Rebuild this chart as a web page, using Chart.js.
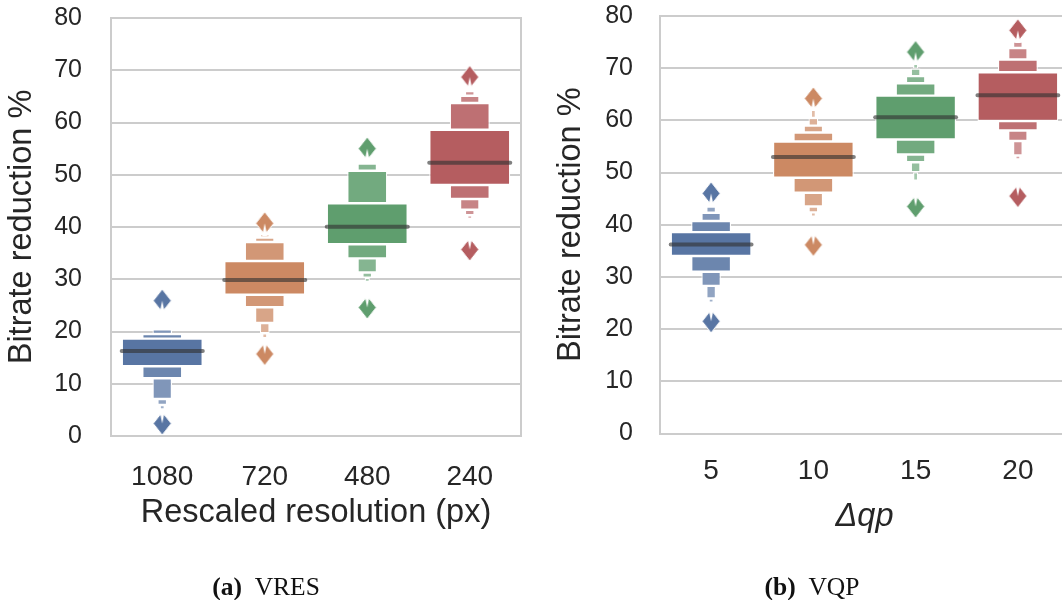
<!DOCTYPE html>
<html>
<head>
<meta charset="utf-8">
<script src="https://cdn.jsdelivr.net/npm/chart.js@4.4.1/dist/chart.umd.min.js"></script>
<style>
html,body{margin:0;padding:0;background:#fff;overflow:hidden;width:1062px;height:600px;position:relative;}
#wrapA{position:absolute;left:0;top:0;width:540px;height:600px;}
#wrapB{position:absolute;left:540px;top:0;width:540px;height:600px;}
.cap{position:absolute;top:572px;font-family:"Liberation Serif","DejaVu Serif",serif;font-size:25.5px;color:#111;white-space:nowrap;transform:translateX(-50%);}
</style>
</head>
<body>
<div id="wrapA"><canvas id="chartA" width="540" height="600"></canvas></div>
<div id="wrapB"><canvas id="chartB" width="540" height="600"></canvas></div>
<div class="cap" style="left:266px"><b>(a)</b>&nbsp;&nbsp;VRES</div>
<div class="cap" style="left:812px"><b>(b)</b>&nbsp;&nbsp;VQP</div>
<script>
// ---------------- data (letter values) ----------------
const yTicks = [0, 10, 20, 30, 40, 50, 60, 70, 80];

const vresCategories = ['1080', '720', '480', '240'];
const vresMedians = [16.27, 29.86, 40.06, 52.3];
// upper letter values per category: Q3, then outer levels going up
const vresUpperEdges = [
  [18.64, 19.52, 20.44],
  [33.49, 37.13, 37.99, 38.66],
  [44.54, 50.76, 52.15],
  [58.62, 63.73, 65.13, 66.03]
];
// lower letter values per category: Q1, then outer levels going down
const vresLowerEdges = [
  [13.36, 11.04, 7.08, 5.93, 5.07],
  [27.04, 24.63, 21.63, 19.66, 18.72],
  [36.71, 34.0, 31.29, 30.28, 29.47],
  [48.04, 45.36, 43.31, 42.24, 41.53]
];
const vresHighOutliers = [25.9, 40.7, 55.0, 68.7];
const vresLowOutliers = [2.4, 15.7, 24.6, 35.7];

const vqpCategories = ['5', '10', '15', '20'];
const vqpMedians = [36.22, 53.0, 60.6, 64.8];
const vqpUpperEdges = [
  [38.58, 40.72, 42.31, 43.5, 44.6],
  [55.94, 57.69, 59.0, 60.46, 62.2],
  [64.75, 67.1, 68.48, 69.92, 71.1],
  [69.21, 71.66, 73.86, 75.1]
];
const vqpLowerEdges = [
  [34.02, 30.98, 28.28, 25.88, 25.08],
  [49.01, 46.14, 43.5, 42.37, 41.55],
  [56.33, 53.47, 51.98, 50.07, 48.44],
  [59.89, 58.05, 56.04, 53.26, 52.52]
];
const vqpHighOutliers = [46.0, 64.2, 73.1, 77.25];
const vqpLowOutliers = [21.5, 36.15, 43.5, 45.5];

// ---------------- styling ----------------
const baseColors = [[88, 117, 163], [204, 137, 99], [95, 158, 110], [181, 93, 96]];
const levelLighten = [0, 0.12, 0.24, 0.34, 0.44];
const levelWidths = [0.79, 0.39, 0.19, 0.095, 0.05];
const GRID = '#cccccc';
const TEXT = '#262626';

function shade(rgb, t) {
  const c = rgb.map(v => Math.round(v + (255 - v) * t));
  return `rgb(${c[0]},${c[1]},${c[2]})`;
}
// diamond outlier marker; notch on the side facing the boxes
function diamondImage(rgb, notchBottom) {
  const c = document.createElement('canvas');
  const w = 20, h = 25;
  c.width = w; c.height = h;
  const g = c.getContext('2d');
  const cx = w / 2;
  g.beginPath();
  g.moveTo(cx, 1); g.lineTo(w - 1, h / 2); g.lineTo(cx, h - 1); g.lineTo(1, h / 2);
  g.closePath();
  g.fillStyle = shade(rgb, 0); g.fill();
  g.strokeStyle = '#ffffff'; g.lineWidth = 1; g.stroke();
  g.fillStyle = '#ffffff';
  g.beginPath();
  if (notchBottom) {
    g.moveTo(cx - 2.7, h); g.lineTo(cx, h * 0.5); g.lineTo(cx + 2.7, h);
  } else {
    g.moveTo(cx - 2.7, 0); g.lineTo(cx, h * 0.5); g.lineTo(cx + 2.7, 0);
  }
  g.closePath(); g.fill();
  return c;
}
const highDiamonds = baseColors.map(c => diamondImage(c, true));
const lowDiamonds = baseColors.map(c => diamondImage(c, false));

function buildDatasets(cats, med, up, lo, hiOut, loOut) {
  const ds = [];
  const barCommon = (L) => ({
    type: 'bar', grouped: false, categoryPercentage: 1, barPercentage: levelWidths[L],
    backgroundColor: cats.map((c, i) => shade(baseColors[i], levelLighten[L])),
    borderColor: '#ffffff', borderWidth: 1.2, borderSkipped: false, order: 3
  });
  ds.push(Object.assign(barCommon(0), { data: cats.map((c, i) => [lo[i][0], up[i][0]]) }));
  for (let L = 1; L < 5; L++) {
    ds.push(Object.assign(barCommon(L), {
      data: cats.map((c, i) => up[i][L] !== undefined ? [up[i][L - 1], up[i][L]] : null)
    }));
    ds.push(Object.assign(barCommon(L), {
      data: cats.map((c, i) => lo[i][L] !== undefined ? [lo[i][L], lo[i][L - 1]] : null)
    }));
  }
  ds.push({
    type: 'bar', grouped: false, categoryPercentage: 1, barPercentage: 0.83,
    data: med.map(m => [m - 0.38, m + 0.38]),
    backgroundColor: 'rgba(50,50,50,0.62)', borderWidth: 0, borderRadius: 2, borderSkipped: false, order: 2
  });
  ds.push({
    type: 'line', showLine: false, order: 1,
    data: cats.map((c, i) => ({ x: c, y: hiOut[i] })),
    pointStyle: (ctx) => highDiamonds[ctx.dataIndex % 4],
    pointRadius: 9, pointHoverRadius: 9
  });
  ds.push({
    type: 'line', showLine: false, order: 1,
    data: cats.map((c, i) => ({ x: c, y: loOut[i] })),
    pointStyle: (ctx) => lowDiamonds[ctx.dataIndex % 4],
    pointRadius: 9, pointHoverRadius: 9
  });
  return ds;
}

function makeChart(id, cats, med, up, lo, hiOut, loOut, g) {
  return new Chart(document.getElementById(id), {
    type: 'bar',
    data: { labels: cats, datasets: buildDatasets(cats, med, up, lo, hiOut, loOut) },
    options: {
      responsive: false, animation: false, events: [],
      layout: { autoPadding: false, padding: { left: 0, right: g.padRight, top: g.padTop, bottom: g.padBottom } },
      plugins: { legend: { display: false }, tooltip: { enabled: false } },
      scales: {
        x: {
          type: 'category', offset: true,
          grid: { display: false },
          border: { display: true, color: GRID, width: 2 },
          ticks: { color: TEXT, font: { family: 'Liberation Sans', size: 28 }, padding: g.xTickPad },
          title: { display: true, text: g.xTitle, color: TEXT, padding: { top: 0, bottom: g.xTitlePad },
                   font: { family: 'Liberation Sans', size: 32.5, style: g.xItalic ? 'italic' : 'normal' } },
          afterFit: s => { s.height = 100; }
        },
        y: {
          type: 'linear', min: 0, max: 80,
          afterBuildTicks: s => { s.ticks = yTicks.map(v => ({ value: v })); },
          grid: { color: GRID, lineWidth: 2, drawTicks: true, tickLength: g.yTickLen, tickColor: 'rgba(0,0,0,0)' },
          border: { display: true, color: GRID, width: 2 },
          ticks: { color: TEXT, font: { family: 'Liberation Sans', size: 25 }, padding: g.yTickPad },
          title: { display: true, text: 'Bitrate reduction %', color: TEXT, padding: { top: g.yTitlePad, bottom: 0 },
                   font: { family: 'Liberation Sans', size: 32.5 } },
          afterFit: s => { s.width = g.yWidth; }
        },
        yR: {
          type: 'linear', position: 'right', min: 0, max: 80,
          grid: { display: false, drawTicks: false },
          border: { display: true, color: GRID, width: 2 },
          ticks: { display: false, padding: 0 },
          afterFit: s => { s.width = 0; }
        }
      }
    }
  });
}

makeChart('chartA', vresCategories, vresMedians, vresUpperEdges, vresLowerEdges, vresHighOutliers, vresLowOutliers, {
  padRight: 19, padTop: 18, padBottom: 64, yWidth: 111, yTickLen: 26, yTickPad: 3, yTitlePad: 2.5,
  xTickPad: 16, xTitlePad: 3, xTitle: 'Rescaled resolution (px)', xItalic: false
});
makeChart('chartB', vqpCategories, vqpMedians, vqpUpperEdges, vqpLowerEdges, vqpHighOutliers, vqpLowOutliers, {
  padRight: 11, padTop: 16, padBottom: 66.5, yWidth: 120, yTickLen: 27, yTickPad: 0, yTitlePad: 12,
  xTickPad: 13, xTitlePad: -3, xTitle: 'Δqp', xItalic: true
});
</script>
</body>
</html>
